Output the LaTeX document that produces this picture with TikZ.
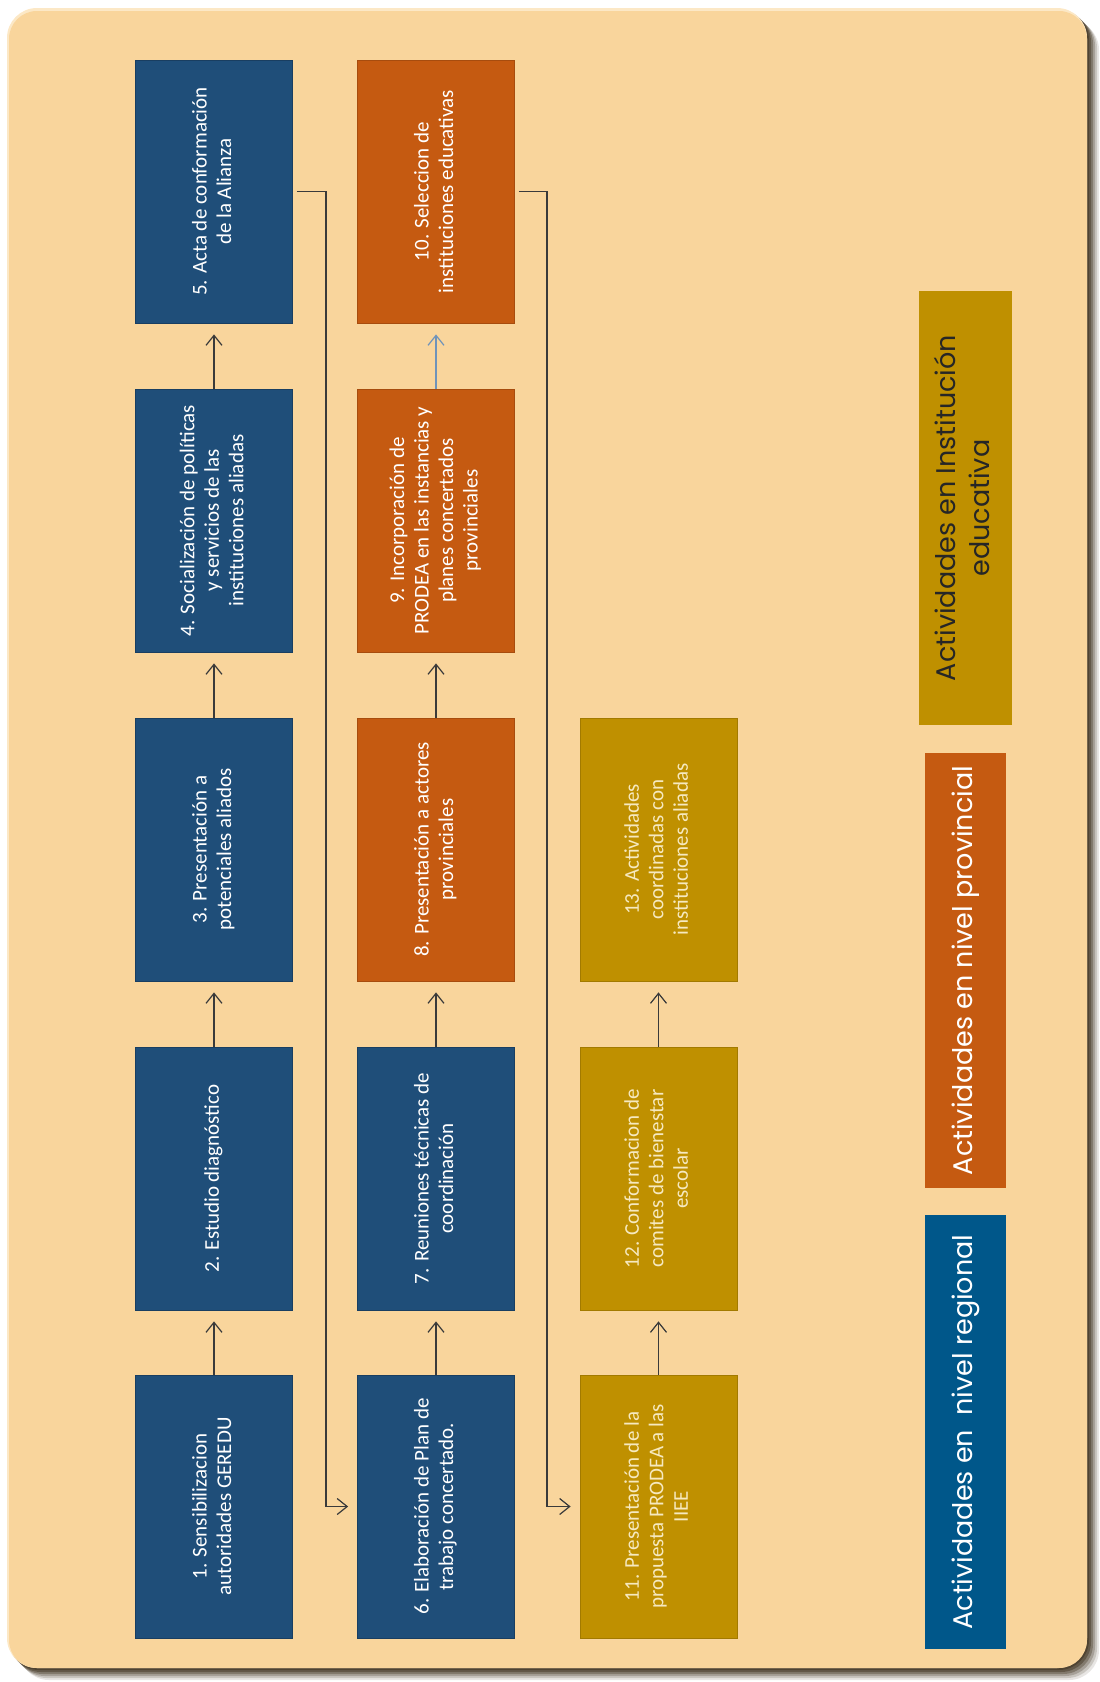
\documentclass[tikz,border=0pt]{standalone}
\usepackage{fontspec}
\setmainfont{Carlito}
\newfontfamily\legfont{Poppins}
\usetikzlibrary{arrows.meta}
\definecolor{bgc}{HTML}{F9D59C}
\definecolor{bglight}{HTML}{FCE8C6}
\definecolor{shadowc}{HTML}{3E311E}
\definecolor{blueBox}{HTML}{1F4E79}
\definecolor{orangeBox}{HTML}{C55A11}
\definecolor{goldBox}{HTML}{BF9000}
\definecolor{legBlue}{HTML}{00578A}
\definecolor{goldText}{HTML}{F6E9C0}
\definecolor{lineC}{HTML}{3A3A3A}
\definecolor{lineBlue}{HTML}{6F93BA}
\tikzset{
  bbox/.style={rectangle, minimum width=157pt, minimum height=263pt, inner sep=0pt,
    line width=0.8pt, font=\fontsize{21}{24.5}\selectfont},
  bluebox/.style={bbox, fill=blueBox, draw=blueBox!80!black, text=white},
  orangebox/.style={bbox, fill=orangeBox, draw=orangeBox!85!black, text=white},
  goldbox/.style={bbox, fill=goldBox, draw=goldBox!85!black, text=goldText},
  legbox/.style={rectangle, inner sep=0pt, font=\legfont\fontsize{27}{34}\selectfont},
  flow/.style={draw=lineC, line width=1.2pt, -{Straight Barb[length=10pt,width=16pt]}},
}
\newcommand{\rtxt}[1]{\rotatebox{90}{\begin{tabular}{@{}c@{}}#1\end{tabular}}}
\begin{document}
\begin{tikzpicture}[x=1pt,y=-1pt]
\useasboundingbox (0,0) rectangle (1100,1682);
% frame shadow
\foreach \i/\o in {12/0.12,10/0.18,8/0.25,6/0.35,4/0.45,2/0.55}{
  \fill[shadowc, opacity=\o, rounded corners=30pt] (7+\i,8+\i) rectangle (1087+\i,1668+\i);
}
\fill[bglight, rounded corners=30pt] (7,8) rectangle (1087,1668);
\fill[bgc, rounded corners=28pt] (9,11) rectangle (1087,1668);

% column 1
\node[bluebox] (b1) at (214,1506.5) {\rtxt{1. Sensibilizacion\\autoridades GEREDU}};
\node[bluebox] (b2) at (214,1178.5) {\rtxt{2. Estudio diagnóstico}};
\node[bluebox] (b3) at (214,849.5) {\rtxt{3. Presentación a\\potenciales aliados}};
\node[bluebox] (b4) at (214,520.5) {\rtxt{4. Socialización de políticas\\y servicios de las\\instituciones aliadas}};
\node[bluebox] (b5) at (214,191.5) {\rtxt{5. Acta de conformación\\de la Alianza}};
% column 2
\node[bluebox] (b6) at (436,1506.5) {\rtxt{6. Elaboración de Plan de\\trabajo concertado.}};
\node[bluebox] (b7) at (436,1178.5) {\rtxt{7. Reuniones técnicas de\\coordinación}};
\node[orangebox] (b8) at (436,849.5) {\rtxt{8. Presentación a actores\\provinciales}};
\node[orangebox] (b9) at (436,520.5) {\rtxt{9. Incorporación de\\PRODEA en las instancias y\\planes concertados\\provinciales}};
\node[orangebox] (b10) at (436,191.5) {\rtxt{10. Seleccion de\\instituciones educativas}};
% column 3
\node[goldbox] (b11) at (658.5,1506.5) {\rtxt{11. Presentación de la\\propuesta PRODEA a las\\IIEE}};
\node[goldbox] (b12) at (658.5,1178.5) {\rtxt{12. Conformacion de\\comites de bienestar\\escolar}};
\node[goldbox] (b13) at (658.5,849.5) {\rtxt{13. Actividades\\coordinadas con\\instituciones aliadas}};

% legend
\node[legbox, fill=legBlue, text=white, minimum width=81pt, minimum height=434pt] (lg1) at (965.5,1432)
  {\rotatebox{90}{Actividades en\ \ nivel regional}};
\node[legbox, fill=orangeBox, text=white, minimum width=81pt, minimum height=435pt] (lg2) at (965.5,970.5)
  {\rotatebox{90}{Actividades en nivel provincial}};
\node[legbox, fill=goldBox, text=black!85, minimum width=93pt, minimum height=434pt] (lg3) at (965.5,508)
  {\rotatebox{90}{\begin{tabular}{@{}c@{}}Actividades en Institución\\educativa\end{tabular}}};

% connectors
\draw[flow, shorten >=11pt] (b1.north) -- (b2.south);
\draw[flow, shorten >=11pt] (b2.north) -- (b3.south);
\draw[flow, shorten >=11pt] (b3.north) -- (b4.south);
\draw[flow, shorten >=11pt] (b4.north) -- (b5.south);
\draw[flow, shorten >=11pt] (b6.north) -- (b7.south);
\draw[flow, shorten >=11pt] (b7.north) -- (b8.south);
\draw[flow, shorten >=11pt] (b8.north) -- (b9.south);
\draw[flow, draw=lineBlue, shorten >=11pt] (b9.north) -- (b10.south);
\draw[flow, shorten >=11pt] (b11.north) -- (b12.south);
\draw[flow, shorten >=11pt] (b12.north) -- (b13.south);
\coordinate (k1) at (326,191.5);
\coordinate (k2) at (547,191.5);
\draw[flow, shorten <=4pt, shorten >=9pt] (b5.east) -- (k1) |- (b6.west);
\draw[flow, shorten <=4pt, shorten >=9pt] (b10.east) -- (k2) |- (b11.west);
\end{tikzpicture}
\end{document}
